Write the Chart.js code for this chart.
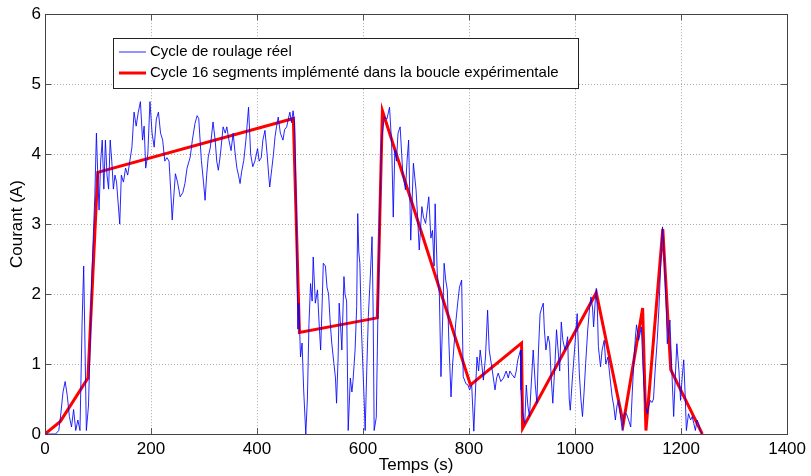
<!DOCTYPE html>
<html>
<head>
<meta charset="utf-8">
<script src="https://cdn.jsdelivr.net/npm/chart.js@4"></script>
<style>
  html, body { margin: 0; padding: 0; background: #fff; }
  #wrap { width: 811px; height: 476px; }
</style>
</head>
<body>
<div id="wrap"><canvas id="courantChart"></canvas></div>
<script>
// time axis ticks
const xTicks = [0, 200, 400, 600, 800, 1000, 1200, 1400];
const yTicks = [0, 1, 2, 3, 4, 5, 6];

const realTimes = [
  0, 10, 20, 26, 30, 34, 38, 42, 46, 50, 54, 58, 62, 66, 70, 73, 76, 78, 82, 85,
  88, 91, 94, 97, 100, 102, 105, 108, 111, 114, 117, 120, 123, 126, 129, 132, 135, 138, 141, 144,
  148, 152, 156, 160, 164, 168, 172, 176, 180, 184, 187, 190, 194, 198, 202, 206, 210, 214, 218, 222,
  226, 230, 234, 237, 240, 243, 246, 250, 255, 260, 264, 268, 274, 278, 283, 287, 290, 295, 299, 302,
  305, 308, 312, 317, 321, 324, 327, 331, 336, 340, 343, 347, 351, 355, 358, 362, 365, 368, 371, 375,
  379, 384, 388, 392, 396, 401, 404, 408, 411, 415, 419, 422, 424, 428, 431, 434, 437, 440, 444, 449,
  452, 456, 459, 462, 465, 468, 471, 474, 477, 479, 482, 485, 488, 492, 495, 498, 501, 504, 506, 510,
  514, 517, 520, 523, 525, 529, 532, 535, 538, 541, 545, 548, 550, 553, 555, 558, 560, 564, 566, 569,
  572, 576, 579, 581, 585, 588, 590, 592, 594, 597, 599, 602, 604, 607, 610, 614, 617, 619, 621, 625,
  627, 629, 632, 635, 640, 645, 650, 654, 657, 660, 663, 666, 670, 675, 680, 683, 686, 690, 695, 700,
  703, 706, 709, 711, 714, 718, 721, 724, 728, 731, 734, 736, 740, 744, 747, 750, 753, 756, 759, 762,
  766, 769, 771, 775, 779, 782, 786, 789, 794, 798, 801, 805, 809, 812, 815, 818, 821, 824, 827, 831,
  835, 838, 840, 844, 849, 852, 855, 860, 865, 870, 874, 877, 881, 886, 889, 892, 897, 898, 901, 905,
  908, 911, 914, 918, 921, 925, 928, 931, 934, 937, 940, 942, 945, 949, 952, 955, 958, 962, 965, 968,
  971, 974, 977, 981, 984, 986, 989, 991, 995, 999, 1004, 1008, 1011, 1014, 1017, 1020, 1024, 1027, 1030, 1033,
  1035, 1038, 1040, 1042, 1044, 1048, 1051, 1055, 1058, 1062, 1066, 1070, 1073, 1076, 1079, 1082, 1085, 1089, 1093, 1097,
  1101, 1105, 1108, 1111, 1114, 1116, 1120, 1123, 1125, 1128, 1130, 1133, 1136, 1139, 1142, 1145, 1148, 1151, 1155, 1158,
  1161, 1163, 1165, 1167, 1169, 1172, 1174, 1177, 1179, 1181, 1183, 1186, 1189, 1192, 1196, 1199, 1202, 1205, 1208, 1210,
  1214, 1218, 1221, 1224, 1227, 1230, 1233, 1236, 1240
];
const realCurrent = [
  0, 0, 0, 0.05, 0.3, 0.6, 0.75, 0.55, 0.25, 0.1, 0.35, 0.05, 0.2, 0.05, 1.6, 2.4, 1.0, 0.05, 0.4, 1.2,
  2.2, 2.8, 3.4, 4.3, 3.6, 3.2, 3.9, 4.2, 3.5, 4.2, 3.7, 3.5, 4.2, 3.9, 3.5, 3.7, 3.6, 3.3, 3.0, 3.7,
  3.6, 3.8, 3.7, 3.9, 4.1, 4.6, 4.4, 4.6, 4.75, 4.2, 4.4, 3.8, 4.0, 4.75, 4.3, 4.1, 4.5, 4.6, 4.3, 4.2,
  3.9, 3.95, 3.9, 3.5, 3.06, 3.4, 3.72, 3.6, 3.39, 3.45, 3.58, 3.8, 3.96, 4.2, 4.44, 4.55, 4.51, 3.91, 3.6, 3.34,
  3.7, 3.96, 4.1, 4.46, 4.2, 3.9, 3.77, 4.0, 4.39, 4.3, 4.39, 4.2, 4.05, 4.3, 4.06, 3.8, 3.7, 3.58, 3.75, 3.91,
  4.2, 4.67, 4.0, 3.82, 3.9, 4.08, 3.9, 3.95, 4.2, 4.34, 4.0, 3.7, 3.53, 3.8, 4.0, 4.25, 4.4, 4.53, 4.3, 4.2,
  4.35, 4.39, 4.5, 4.6, 4.45, 4.62, 4.44, 3.2, 1.5, 1.87, 1.1, 1.3, 0.63, 0.0, 0.5, 1.58, 2.15, 1.9, 2.53, 1.87,
  2.06, 1.6, 1.2, 1.9, 2.44, 2.4, 2.1, 2.0, 1.6, 1.3, 1.01, 0.8, 0.44, 1.1, 1.87, 1.5, 1.2, 2.25, 2.0, 1.9,
  0.05, 0.8, 0.6, 0.75, 1.2, 1.82, 3.15, 2.6, 2.44, 1.5, 1.1, 0.5, 0.05, 0.9, 1.68, 2.3, 2.82, 1.8, 0.05, 0.24,
  1.2, 2.2, 3.3, 4.2, 4.53, 4.5, 4.67, 4.15, 3.1, 4.06, 3.9, 4.3, 4.39, 3.72, 3.49, 3.9, 4.2, 2.77, 3.87, 3.49,
  3.1, 2.63, 3.0, 3.25, 3.1, 3.01, 3.2, 3.39, 2.8, 2.91, 2.4, 3.29, 2.3, 2.0, 0.82, 1.6, 2.44, 2.2, 2.06, 1.3,
  0.53, 1.0, 1.2, 1.6, 1.9, 2.1, 2.2, 0.82, 0.72, 0.7, 0.63, 0.7, 0.04, 0.6, 1.1, 0.9, 1.2, 1.0, 0.77, 1.1,
  1.77, 1.2, 1.1, 0.9, 0.63, 0.8, 0.87, 0.75, 0.8, 0.9, 0.8, 0.9, 0.85, 0.8, 0.9, 1.06, 1.2, 0.63, 0.3, 0.15,
  0.7, 0.4, 0.25, 0.8, 1.2, 0.7, 0.44, 1.2, 1.72, 1.8, 1.87, 1.5, 1.2, 1.4, 1.3, 0.8, 0.44, 1.0, 1.49, 1.2,
  0.9, 1.6, 1.34, 1.2, 1.3, 1.39, 0.5, 0.34, 0.8, 1.2, 1.72, 0.87, 0.5, 0.25, 0.6, 1.01, 1.5, 1.77, 1.96, 1.8,
  1.53, 1.9, 2.08, 1.8, 1.25, 0.96, 1.2, 1.34, 1.0, 1.1, 0.8, 0.53, 0.4, 0.2, 0.4, 0.48, 0.3, 0.05, 0.3, 0.29,
  0.2, 0.1, 0.6, 1.06, 1.4, 1.56, 1.34, 1.45, 1.53, 1.0, 0.68, 0.4, 0.29, 0.4, 0.48, 0.45, 0.5, 0.9, 1.34, 1.77,
  2.3, 2.68, 2.96, 2.7, 2.39, 1.8, 1.29, 1.5, 1.63, 1.2, 0.82, 0.25, 0.8, 1.29, 0.9, 0.48, 0.8, 1.06, 0.5, 0.05,
  0.29, 0.2, 0.25, 0.15, 0.05, 0.2, 0.15, 0.05, 0
];

// 16-segment cycle used in the test bench
const segTimes = [0, 29, 81, 99.5, 468.5, 480, 627, 636.5, 802.7, 899, 901, 1040, 1091, 1127.5, 1133.7, 1165.5, 1180.5, 1240];
const segCurrent = [0, 0.18, 0.80, 3.74, 4.51, 1.45, 1.66, 4.62, 0.70, 1.30, 0.08, 2.02, 0.15, 1.80, 0.05, 2.93, 0.92, 0];

const FONT = "'Liberation Sans', Arial, sans-serif";

const toPoints = (xs, ys) => xs.map((x, i) => ({ x: x, y: ys[i] }));

// box round the plot + small inward ticks, matlab style
const frameTicksPlugin = {
  id: "frameTicks",
  afterDatasetsDraw: (chart) => {
    const { ctx, chartArea: a, scales } = chart;
    ctx.save();
    ctx.strokeStyle = "#555";
    ctx.lineWidth = 1;
    ctx.beginPath();
    xTicks.forEach((v) => {
      const px = Math.round(scales.x.getPixelForValue(v)) + 0.5;
      ctx.moveTo(px, a.bottom); ctx.lineTo(px, a.bottom - 6);
      ctx.moveTo(px, a.top); ctx.lineTo(px, a.top + 6);
    });
    yTicks.forEach((v) => {
      const py = Math.round(scales.y.getPixelForValue(v)) + 0.5;
      ctx.moveTo(a.left, py); ctx.lineTo(a.left + 6, py);
      ctx.moveTo(a.right, py); ctx.lineTo(a.right - 6, py);
    });
    ctx.stroke();
    ctx.strokeStyle = "#444";
    ctx.strokeRect(Math.round(a.left) + 0.5, Math.round(a.top) + 0.5, Math.round(a.right - a.left), Math.round(a.bottom - a.top));
    ctx.restore();
  },
};

// legend box inside the axes, upper left
const boxLegendPlugin = {
  id: "boxLegend",
  afterDraw: (chart) => {
    const ctx = chart.ctx;
    const x0 = 113.5, y0 = 38.5, w = 465, h = 50;
    ctx.save();
    ctx.fillStyle = "#fff";
    ctx.fillRect(x0, y0, w, h);
    ctx.strokeStyle = "#222";
    ctx.lineWidth = 1;
    ctx.strokeRect(x0, y0, w, h);
    ctx.font = "15px " + FONT;
    ctx.textBaseline = "middle";
    chart.data.datasets.forEach((ds, i) => {
      const y = 52 + i * 21;
      ctx.strokeStyle = ds.borderColor;
      ctx.lineWidth = ds.borderWidth;
      ctx.beginPath();
      ctx.moveTo(119, y);
      ctx.lineTo(146, y);
      ctx.stroke();
      ctx.fillStyle = "#000";
      ctx.fillText(ds.label, 150, y);
    });
    ctx.restore();
  },
};

new Chart(document.getElementById("courantChart"), {
  type: "line",
  data: {
    datasets: [
      {
        label: "Cycle de roulage réel",
        data: toPoints(realTimes, realCurrent),
        borderColor: "rgba(0, 0, 255, 0.85)",
        borderWidth: 1,
        pointRadius: 0,
        tension: 0,
        fill: false,
      },
      {
        label: "Cycle 16 segments implémenté dans la boucle expérimentale",
        data: toPoints(segTimes, segCurrent),
        borderColor: "#ff0000",
        borderWidth: 3,
        pointRadius: 0,
        tension: 0,
        fill: false,
      },
    ],
  },
  options: {
    responsive: true,
    maintainAspectRatio: false,
    animation: false,
    layout: { padding: { top: 14, right: 16, left: 0, bottom: 0 } },
    plugins: {
      legend: { display: false },
      tooltip: { enabled: false },
    },
    scales: {
      x: {
        type: "linear",
        min: 0,
        max: 1400,
        afterBuildTicks: (axis) => { axis.ticks = xTicks.map((v) => ({ value: v })); },
        afterFit: (axis) => { axis.height = 42; },
        grid: { color: "#aaa", drawTicks: false },
        border: { display: false, dash: [1, 2] },
        ticks: {
          color: "#000",
          padding: 5,
          maxRotation: 0,
          font: { size: 17, family: FONT },
          callback: (value) => String(value),
        },
        title: { display: true, text: "Temps (s)", color: "#000", padding: 0, font: { size: 17, family: FONT } },
      },
      y: {
        type: "linear",
        min: 0,
        max: 6,
        afterBuildTicks: (axis) => { axis.ticks = yTicks.map((v) => ({ value: v })); },
        afterFit: (axis) => { axis.width = 45; },
        grid: { color: "#aaa", drawTicks: false },
        border: { display: false, dash: [1, 2] },
        ticks: { color: "#000", padding: 4, font: { size: 17, family: FONT }, callback: (value) => String(value) },
        title: { display: true, text: "Courant (A)", color: "#000", padding: { top: 7, bottom: 0 }, font: { size: 17, family: FONT } },
      },
    },
  },
  plugins: [frameTicksPlugin, boxLegendPlugin],
});
</script>
</body>
</html>
